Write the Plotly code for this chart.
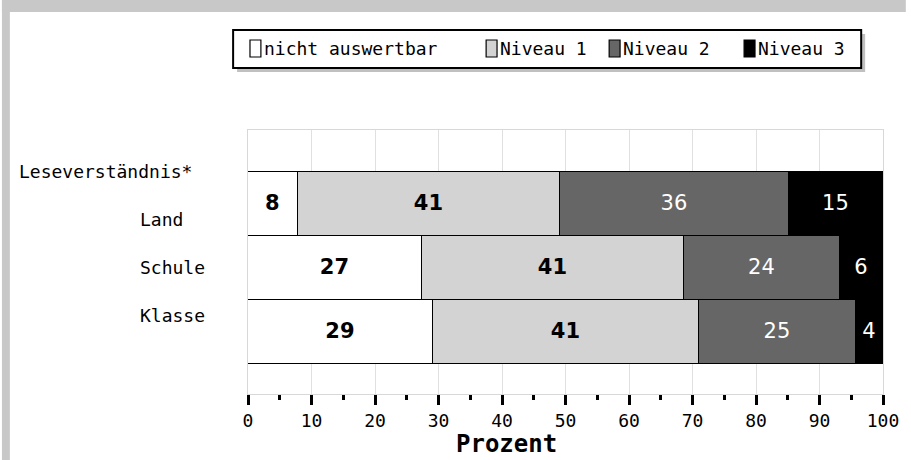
import plotly.graph_objects as go

# ---- data ----
rows = ["Land", "Schule", "Klasse"]
series_names = ["nicht auswertbar", "Niveau 1", "Niveau 2", "Niveau 3"]
nicht_auswertbar = [7.9, 27.4, 29.2]
niveau1 = [41.2, 41.3, 41.8]
niveau2 = [36.1, 24.5, 24.7]
niveau3 = [14.8, 6.8, 4.3]
label_na = ["8", "27", "29"]
label_n1 = ["41", "41", "41"]
label_n2 = ["36", "24", "25"]
label_n3 = ["15", "6", "4"]
group_title = "Leseverständnis*"
x_ticks = [0, 10, 20, 30, 40, 50, 60, 70, 80, 90, 100]
x_title = "Prozent"

# ---- styles ----
fills = ["#ffffff", "#d3d3d3", "#666666", "#000000"]
txt_colors = ["#000000", "#000000", "#ffffff", "#ffffff"]
txt_weights = ["bold", "bold", "normal", "normal"]
MONO = "DejaVu Sans Mono"
SMALL = 18

W, H = 911, 460
L, R, T, B = 248, 23, 130, 66
PW, PH = W - L - R, H - T - B


def px(x):
    return (x - L) / PW


def py(y):
    return (H - B - y) / PH


fig = go.Figure()
values = [nicht_auswertbar, niveau1, niveau2, niveau3]
labels = [label_na, label_n1, label_n2, label_n3]
for i, name in enumerate(series_names):
    fig.add_trace(go.Bar(
        y=list(range(len(rows))), x=values[i], name=name, orientation="h",
        width=1.0,
        marker=dict(color=fills[i], line=dict(color="#000000", width=1.2)),
        text=labels[i], texttemplate="%{text}", textposition="inside",
        insidetextanchor="middle", constraintext="none", textangle=0,
        textfont=dict(family="DejaVu Sans", size=21, color=txt_colors[i], weight=txt_weights[i]),
        showlegend=False, hoverinfo="skip",
    ))

shapes = []
gray = "#c8c8c8"
# frame bands
shapes.append(dict(type="rect", xref="paper", yref="paper", x0=px(0), x1=px(W), y0=py(12), y1=py(0),
                   fillcolor=gray, line=dict(width=0), layer="below"))
shapes.append(dict(type="rect", xref="paper", yref="paper", x0=px(0), x1=px(8), y0=py(H), y1=py(0),
                   fillcolor=gray, line=dict(width=0), layer="below"))
# legend shadow and box
shapes.append(dict(type="rect", xref="paper", yref="paper", x0=px(237), x1=px(870), y0=py(72), y1=py(34),
                   fillcolor="#c0c0c0", line=dict(width=0)))
shapes.append(dict(type="rect", xref="paper", yref="paper", x0=px(233), x1=px(866), y0=py(68), y1=py(30),
                   fillcolor="#ffffff", line=dict(color="#000000", width=2)))

annotations = []
leg_x = [250, 488, 612, 748]
for i, name in enumerate(series_names):
    x0 = leg_x[i]
    shapes.append(dict(type="rect", xref="paper", yref="paper", x0=px(x0), x1=px(x0 + 11),
                       y0=py(57), y1=py(40), fillcolor=fills[i],
                       line=dict(color="#000000", width=1.2)))
    annotations.append(dict(xref="paper", yref="paper", x=px(x0 + 12), y=py(49), text=name,
                            showarrow=False, xanchor="left", yanchor="middle",
                            font=dict(family=MONO, size=SMALL, color="#000000")))

# row labels
annotations.append(dict(xref="paper", yref="y", x=px(15), y=-0.5, text=group_title, showarrow=False,
                        xanchor="left", yanchor="middle", font=dict(family=MONO, size=SMALL, color="#000000")))
for k, r in enumerate(rows):
    annotations.append(dict(xref="paper", yref="y", x=px(137), y=0.25 + 0.75 * k, text=r, showarrow=False,
                            xanchor="left", yanchor="middle", font=dict(family=MONO, size=SMALL, color="#000000")))

# axis title (placed left of plot centre, as in the original)
annotations.append(dict(xref="paper", yref="paper", x=px(509), y=py(459), text=x_title, showarrow=False,
                        xanchor="center", yanchor="bottom", borderpad=0,
                        font=dict(family=MONO, size=24, color="#000000", weight="bold")))

fig.update_layout(
    width=W, height=H, margin=dict(l=L, r=R, t=T, b=B, pad=0),
    paper_bgcolor="#ffffff", plot_bgcolor="#ffffff",
    barmode="stack", bargap=0,
    shapes=shapes, annotations=annotations,
    xaxis=dict(range=[0, 100], tickvals=x_ticks, ticktext=[str(v) for v in x_ticks],
               showgrid=True, gridcolor="#e0e0e0", gridwidth=1,
               showline=True, linecolor="#d8d8d8", linewidth=1, mirror=True,
               ticks="outside", ticklen=10, tickwidth=3, tickcolor="#000000",
               minor=dict(dtick=5, ticks="outside", ticklen=5, tickwidth=3, tickcolor="#000000", showgrid=False),
               tickfont=dict(family=MONO, size=SMALL, color="#000000"),
               ticklabelstandoff=0,
               zeroline=False, fixedrange=True),
    yaxis=dict(range=[2.969, -1.156], showticklabels=False, showgrid=False, zeroline=False,
               showline=True, linecolor="#d8d8d8", linewidth=1, mirror=True, ticks="", fixedrange=True),
    font=dict(family=MONO, color="#000000"),
)

post = (
    "var s=document.createElement('style');"
    "s.textContent='html,body{margin:0;padding:0;overflow:hidden;}';"
    "document.head.appendChild(s);"
)
fig.write_html("out.html", config={"displayModeBar": False}, post_script=post)
